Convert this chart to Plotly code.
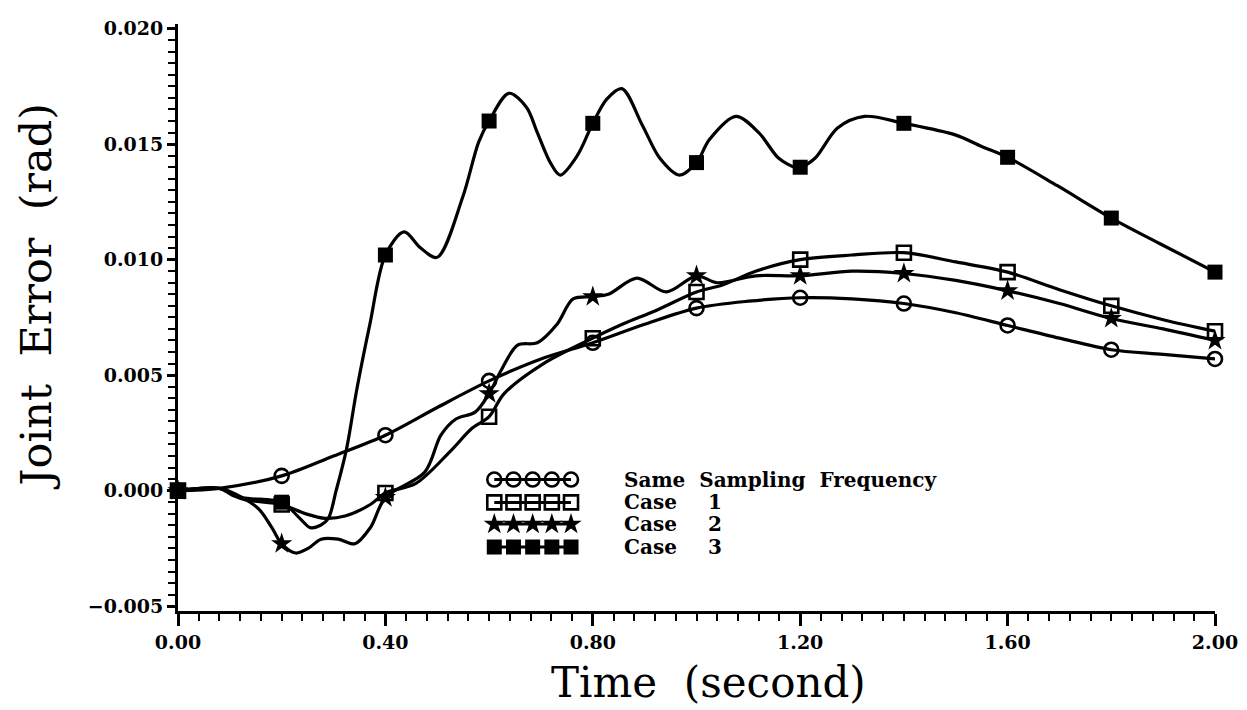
import plotly.graph_objects as go

# --- Data (time in s, joint error in rad) ---
MARK_T = [0.0, 0.2, 0.4, 0.6, 0.8, 1.0, 1.2, 1.4, 1.6, 1.8, 2.0]

same_t = [0, 0.08, 0.2, 0.3, 0.4, 0.5, 0.6, 0.7, 0.8, 0.9, 1.0, 1.1, 1.2,
          1.3, 1.4, 1.5, 1.6, 1.7, 1.8, 1.9, 2.0]
same_v = [0, 0.0001, 0.00064, 0.0015, 0.0024, 0.0036, 0.00475, 0.0057, 0.0064,
          0.0072, 0.0079, 0.0082, 0.00835, 0.0083, 0.0081, 0.0077, 0.00715,
          0.0066, 0.0061, 0.0059, 0.0057]

case1_t = [0, 0.08, 0.105, 0.131, 0.2, 0.246, 0.284, 0.322, 0.371, 0.4, 0.458,
           0.525, 0.567, 0.6, 0.629, 0.705, 0.8, 0.857, 0.922, 1.0, 1.05,
           1.114, 1.2, 1.3, 1.4, 1.5, 1.6, 1.7, 1.8, 1.9, 2.0]
case1_v = [0, 0.0001, -0.0002, -0.0004, -0.0006, -0.0010, -0.0012, -0.0011,
           -0.0006, -0.0001, 0.0003, 0.0017, 0.0027, 0.0032, 0.0042, 0.0055,
           0.0066, 0.0072, 0.0078, 0.0086, 0.0089, 0.0095, 0.0100, 0.0102,
           0.0103, 0.0099, 0.00946, 0.0087, 0.0080, 0.0074, 0.0069]

case2_t = [0, 0.08, 0.124, 0.156, 0.181, 0.2, 0.227, 0.251, 0.276, 0.309,
           0.341, 0.371, 0.4, 0.476, 0.507, 0.536, 0.573, 0.6, 0.623, 0.655,
           0.693, 0.731, 0.762, 0.8, 0.83, 0.885, 0.942, 1.0, 1.04, 1.114,
           1.2, 1.3, 1.4, 1.5, 1.6, 1.7, 1.8, 1.9, 2.0]
case2_v = [0, 0.0001, -0.0003, -0.0008, -0.0016, -0.0023, -0.0027, -0.0025,
           -0.0021, -0.0021, -0.0023, -0.0016, -0.0003, 0.0008, 0.0024,
           0.0031, 0.0034, 0.0042, 0.0052, 0.0063, 0.0064, 0.0072, 0.0083,
           0.0084, 0.0085, 0.0092, 0.0086, 0.0093, 0.0090, 0.0093, 0.0093,
           0.0095, 0.0094, 0.0091, 0.00865, 0.0081, 0.00745, 0.0070, 0.0065]

case3_t = [0, 0.08, 0.124, 0.2, 0.235, 0.255, 0.275, 0.29, 0.305, 0.325,
           0.345, 0.37, 0.4, 0.436, 0.468, 0.5, 0.549, 0.58, 0.6, 0.638,
           0.672, 0.693, 0.718, 0.737, 0.77, 0.8, 0.827, 0.856, 0.896, 0.929,
           0.967, 1.0, 1.025, 1.076, 1.12, 1.158, 1.19, 1.2, 1.229, 1.272,
           1.324, 1.4, 1.499, 1.55, 1.6, 1.696, 1.8, 1.893, 2.0]
case3_v = [0, 0.0001, -0.0003, -0.0005, -0.0012, -0.0016, -0.0015, -0.0012,
           0.0000, 0.0018, 0.0044, 0.0072, 0.0102, 0.0112, 0.0105, 0.0101,
           0.0127, 0.0151, 0.0160, 0.0172, 0.0166, 0.0155, 0.0142, 0.01366,
           0.0145, 0.0159, 0.01695, 0.0174, 0.0158, 0.0144, 0.01366, 0.0142,
           0.0152, 0.0162, 0.0155, 0.0144, 0.0140, 0.0140, 0.0144, 0.0157,
           0.0162, 0.0159, 0.0154, 0.0149, 0.01443, 0.0132, 0.0118, 0.0107,
           0.00946]

x_tickvals = [0.0, 0.4, 0.8, 1.2, 1.6, 2.0]
x_ticktext = ["0.00", "0.40", "0.80", "1.20", "1.60", "2.00"]
y_tickvals = [-0.005, 0.0, 0.005, 0.010, 0.015, 0.020]
y_ticktext = ["\u22120.005", "0.000", "0.005", "0.010", "0.015", "0.020"]

legend_labels = ["Same  Sampling  Frequency", "Case", "Case", "Case"]
legend_numbers = ["", "1", "2", "3"]

INK = "black"
TICK_FONT = dict(family="DejaVu Serif", size=19, color=INK, weight="bold")


def at_marks(ts, vs):
    keep = [(t, v) for t, v in zip(ts, vs) if any(abs(t - m) < 1e-9 for m in MARK_T)]
    return [k[0] for k in keep], [k[1] for k in keep]


series = [
    (same_t, same_v, dict(symbol="circle-open", size=14, color=INK, line=dict(width=2.6, color=INK))),
    (case1_t, case1_v, dict(symbol="square-open", size=14, color=INK, line=dict(width=2.6, color=INK))),
    (case2_t, case2_v, dict(symbol="star", size=16, color=INK, line=dict(width=0))),
    (case3_t, case3_v, dict(symbol="square", size=15, color=INK, line=dict(width=0))),
]

fig = go.Figure()
for ts, vs, mk in series:
    fig.add_trace(go.Scatter(x=ts, y=vs, mode="lines", showlegend=False,
                             line=dict(color=INK, width=3.2, shape="spline", smoothing=0.9)))
    mt, mv = at_marks(ts, vs)
    fig.add_trace(go.Scatter(x=mt, y=mv, mode="markers", showlegend=False,
                             marker=mk, cliponaxis=False))

# --- hand-drawn style legend inside the axes (plot fractions) ---
LEG_X0, LEG_DX = 0.305, 0.0185
LEG_ROWS = [0.224, 0.185, 0.148, 0.109]
for row_y, (_, _, mk), lab, num in zip(LEG_ROWS, series, legend_labels, legend_numbers):
    xs = [LEG_X0 + i * LEG_DX for i in range(5)]
    fig.add_trace(go.Scatter(x=xs, y=[row_y] * 5, mode="lines+markers", showlegend=False,
                             xaxis="x2", yaxis="y2", marker=mk, cliponaxis=False,
                             line=dict(color=INK, width=3)))
    fig.add_annotation(x=0.428, y=row_y, xref="paper", yref="paper", text=lab,
                       showarrow=False, xanchor="left", yanchor="middle",
                       font=dict(family="DejaVu Serif", size=20, color=INK, weight="bold"))
    if num:
        fig.add_annotation(x=0.518, y=row_y, xref="paper", yref="paper", text=num,
                           showarrow=False, xanchor="center", yanchor="middle",
                           font=dict(family="DejaVu Serif", size=20, color=INK, weight="bold"))

# axis titles
fig.add_annotation(x=-0.137, y=0.537, xref="paper", yref="paper", text="Joint  Error  (rad)",
                   textangle=-90, showarrow=False, xanchor="center", yanchor="middle",
                   font=dict(family="DejaVu Serif", size=43, color=INK))
fig.add_annotation(x=0.512, y=-0.122, xref="paper", yref="paper", text="Time  (second)",
                   showarrow=False, xanchor="center", yanchor="middle",
                   font=dict(family="DejaVu Serif", size=42, color=INK))

# page body has an 8px margin, so the figure is 8px smaller and margins shifted
fig.update_layout(
    width=1239, height=702,
    margin=dict(l=170, r=27, t=9, b=99),
    paper_bgcolor="white", plot_bgcolor="white",
    showlegend=False,
    xaxis=dict(range=[0, 2.0], tickvals=x_tickvals, ticktext=x_ticktext,
               ticks="outside", ticklen=12, tickwidth=2.5, tickcolor=INK,
               showline=True, linewidth=3, linecolor=INK,
               showgrid=False, zeroline=False, tickfont=TICK_FONT,
               minor=dict(dtick=0.04, ticks="outside", ticklen=7, tickwidth=2, tickcolor=INK)),
    yaxis=dict(range=[-0.00521, 0.0202], tickvals=y_tickvals, ticktext=y_ticktext,
               ticks="outside", ticklen=8, tickwidth=2.5, tickcolor=INK,
               showline=True, linewidth=3, linecolor=INK,
               showgrid=False, zeroline=False, tickfont=TICK_FONT,
               minor=dict(dtick=0.0005, ticks="outside", ticklen=7, tickwidth=2, tickcolor=INK)),
    xaxis2=dict(overlaying="x", range=[0, 1], visible=False),
    yaxis2=dict(overlaying="y", range=[0, 1], visible=False),
)

fig.write_html("out.html")
